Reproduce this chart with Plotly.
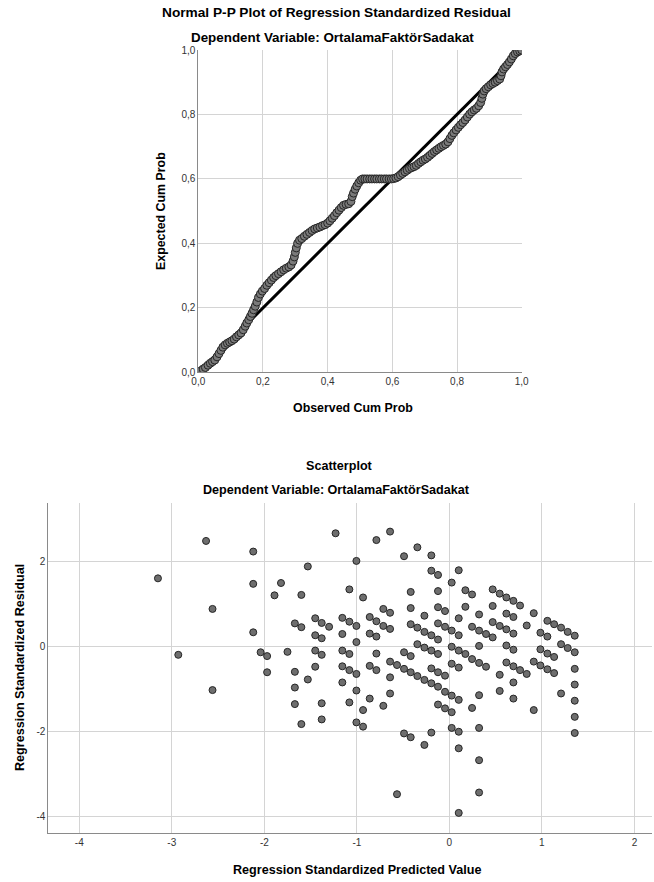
import plotly.graph_objects as go

# ---------------- Normal P-P plot data ----------------
pp_observed = [
    0.000, 0.008, 0.015, 0.022, 0.030, 0.037, 0.044, 0.051, 0.058, 0.064,
    0.070, 0.076, 0.083, 0.090, 0.097, 0.104, 0.111, 0.118, 0.125, 0.132,
    0.139, 0.145, 0.150, 0.156, 0.161, 0.166, 0.171, 0.176, 0.181, 0.186,
    0.192, 0.198, 0.205, 0.212, 0.219, 0.226, 0.233, 0.240, 0.248, 0.256,
    0.264, 0.272, 0.280, 0.287, 0.293, 0.297, 0.300, 0.303, 0.307, 0.313,
    0.320, 0.328, 0.336, 0.344, 0.352, 0.360, 0.368, 0.376, 0.384, 0.392,
    0.400, 0.407, 0.414, 0.421, 0.428, 0.435, 0.442, 0.449, 0.457, 0.465,
    0.472, 0.476, 0.480, 0.485, 0.490, 0.496, 0.502, 0.508, 0.515, 0.522,
    0.530, 0.537, 0.545, 0.552, 0.560, 0.567, 0.575, 0.582, 0.590, 0.597,
    0.604, 0.611, 0.618, 0.625, 0.632, 0.639, 0.646, 0.653, 0.660, 0.667,
    0.674, 0.681, 0.688, 0.695, 0.702, 0.709, 0.716, 0.723, 0.730, 0.737,
    0.744, 0.751, 0.758, 0.765, 0.772, 0.778, 0.784, 0.790, 0.797, 0.804,
    0.811, 0.818, 0.825, 0.832, 0.839, 0.846, 0.853, 0.860, 0.867, 0.873,
    0.877, 0.880, 0.884, 0.890, 0.897, 0.904, 0.911, 0.918, 0.925, 0.932,
    0.936, 0.939, 0.944, 0.950, 0.956, 0.962, 0.968, 0.974, 0.980, 0.987,
    0.994, 1.000,
]
pp_expected = [
    0.000, 0.005, 0.010, 0.015, 0.022, 0.028, 0.033, 0.038, 0.048, 0.058,
    0.068, 0.078, 0.085, 0.090, 0.094, 0.098, 0.103, 0.110, 0.116, 0.122,
    0.132, 0.143, 0.153, 0.163, 0.173, 0.183, 0.194, 0.205, 0.218, 0.232,
    0.243, 0.252, 0.260, 0.270, 0.278, 0.286, 0.294, 0.300, 0.306, 0.312,
    0.318, 0.323, 0.327, 0.333, 0.345, 0.358, 0.372, 0.386, 0.400, 0.410,
    0.415, 0.422, 0.428, 0.434, 0.440, 0.445, 0.448, 0.451, 0.455, 0.458,
    0.463, 0.470, 0.478, 0.486, 0.495, 0.503, 0.511, 0.518, 0.521, 0.523,
    0.530, 0.545, 0.556, 0.568, 0.578, 0.588, 0.596, 0.600, 0.600, 0.600,
    0.600, 0.600, 0.600, 0.600, 0.600, 0.600, 0.600, 0.600, 0.600, 0.600,
    0.601, 0.603, 0.607, 0.612, 0.617, 0.622, 0.627, 0.632, 0.635, 0.638,
    0.642, 0.648, 0.653, 0.658, 0.662, 0.667, 0.673, 0.679, 0.685, 0.690,
    0.695, 0.700, 0.704, 0.708, 0.715, 0.725, 0.735, 0.743, 0.752, 0.760,
    0.768, 0.775, 0.783, 0.792, 0.801, 0.808, 0.814, 0.819, 0.827, 0.837,
    0.850, 0.863, 0.873, 0.880, 0.886, 0.892, 0.896, 0.900, 0.905, 0.910,
    0.920, 0.932, 0.941, 0.948, 0.955, 0.963, 0.972, 0.982, 0.989, 0.994,
    0.997, 1.000,
]
ref_line = [0.0, 1.0]
pp_ticks = [0.0, 0.2, 0.4, 0.6, 0.8, 1.0]
pp_ticklabels = ["0,0", "0,2", "0,4", "0,6", "0,8", "1,0"]

# ---------------- Scatterplot data ----------------
predicted = [
    -3.15, -2.63, -2.93, -2.56, -2.12, -2.12, -2.12, -2.04, -1.97, -1.97,
    -1.89, -1.82, -1.75, -1.67, -1.67, -1.60, -1.60, -1.53, -1.53, -1.45,
    -1.45, -1.45, -1.45, -1.38, -1.38, -1.38, -1.30, -1.23, -2.56, -1.67,
    -1.67, -1.60, -1.38, -1.38,
    -0.641, -0.789, -0.346, -0.49, -0.195, -1.005, -0.195, -0.123, 0.101, 0.025,
    -1.081, -0.933, -0.418, -0.123, 0.173, 0.245, 0.468, 0.544, 0.616, 0.692,
    0.764, -0.714, -0.641, -0.418, -0.27, -0.123, -0.047, 0.173, 0.321, 0.468,
    0.616, 0.692, 0.912, -1.157, -1.081, -1.005, -0.861, -0.789, -0.714, -0.641,
    -0.418, -0.346, -0.27, -0.195, -0.123, -0.123, -0.047, 0.025, 0.101, 0.101,
    0.245, 0.321, 0.396, 0.468, 0.468, 0.544, 0.616, 0.692, 0.836, 1.059,
    1.132, 1.207, 1.279, 1.355, 0.984, 1.059, -1.157, -1.005, -0.861, -0.789,
    -0.346, -0.27, -0.195, -0.123, 0.025, 0.101, 0.173, 0.245, 0.321, 0.616,
    0.692, 0.984, 1.059, 1.132, 1.207, 1.279, 1.355, -1.157, -1.081, -0.789,
    -0.49, -0.418,
    -1.157, -1.081, -1.005, -1.157, -1.005, -1.081, -0.933, -1.005, -0.933, -0.861,
    -0.789, -0.861, -0.714, -0.641, -0.641, -0.641, -0.566, -0.49, -0.418, -0.346,
    -0.27, -0.195, -0.123, -0.047, 0.025, 0.101, -0.195, -0.123, -0.047, -0.123,
    -0.047, 0.025, 0.025, 0.101, 0.245, 0.321, 0.321, 0.396, 0.544, 0.544,
    0.616, 0.692, 0.764, 0.836, 0.692, 0.692, 0.912, 0.984, 1.059, 1.132,
    0.912, 1.207, 1.355, 1.355, 1.355, 1.355, 1.355, -0.49, -0.418, -0.27,
    -0.195, 0.025, 0.101, 0.101, 0.321, 0.321, 0.321, -0.566, 0.101,
]
residual = [
    1.61, 2.49, -0.19, 0.89, 2.24, 1.48, 0.34, -0.13, -0.22, -0.60,
    1.21, 1.50, -0.12, 0.55, -0.59, 0.46, 1.22, 1.89, -0.77, 0.67,
    0.27, -0.09, -0.47, 0.56, 0.20, -0.19, 0.47, 2.67, -1.02, -0.96,
    -1.35, -1.82, -1.33, -1.71,
    2.71, 2.51, 2.34, 2.13, 2.15, 2.02, 1.79, 1.69, 1.80, 1.51,
    1.35, 1.16, 1.29, 1.31, 1.33, 1.23, 1.35, 1.25, 1.16, 1.08,
    0.97, 0.89, 0.80, 0.91, 0.73, 0.93, 0.84, 0.94, 0.76, 0.96,
    0.78, 0.70, 0.79, 0.68, 0.59, 0.49, 0.70, 0.60, 0.49, 0.42,
    0.53, 0.45, 0.35, 0.27, 0.55, 0.17, 0.47, 0.38, 0.27, 0.67,
    0.47, 0.38, 0.30, 0.22, 0.58, 0.49, 0.41, 0.31, 0.50, 0.61,
    0.53, 0.45, 0.35, 0.26, 0.33, 0.24, 0.30, 0.11, 0.31, 0.24,
    0.06, -0.02, -0.09, -0.17, 0.00, -0.09, -0.17, -0.29, 0.02, 0.03,
    -0.07, -0.06, -0.16, -0.24, 0.06, -0.03, -0.13, -0.09, -0.17, -0.16,
    -0.13, -0.22,
    -0.46, -0.55, -0.64, -0.84, -1.03, -1.31, -1.49, -1.78, -1.88, -0.45,
    -0.55, -1.22, -1.39, -0.35, -0.72, -1.10, -0.43, -0.52, -0.60, -0.69,
    -0.78, -0.86, -0.94, -1.06, -1.15, -1.25, -0.51, -0.60, -0.68, -1.36,
    -1.45, -1.54, -0.40, -0.49, -1.44, -1.14, -0.38, -0.47, -0.66, -1.04,
    -0.37, -0.46, -0.55, -0.64, -0.84, -1.22, -0.35, -0.44, -0.53, -0.62,
    -1.49, -1.10, -0.52, -0.89, -1.27, -1.65, -2.03, -2.04, -2.13, -2.31,
    -2.02, -1.91, -2.00, -2.39, -1.91, -2.67, -3.43, -3.47, -3.91,
]
sc_xticks = [-4, -3, -2, -1, 0, 1, 2]
sc_yticks = [-4, -2, 0, 2]

W, H = 654, 882
FONT = "Liberation Sans, Arial, sans-serif"


def fx(p):
    return p / W


def fy(p):
    return 1 - p / H


fig = go.Figure()
fig.add_trace(go.Scatter(x=ref_line, y=ref_line, mode="lines",
                         line=dict(color="black", width=3),
                         xaxis="x", yaxis="y", hoverinfo="skip"))
fig.add_trace(go.Scatter(x=pp_observed, y=pp_expected, mode="markers",
                         marker=dict(size=8, color="#7a7a7a",
                                     line=dict(color="#262626", width=1)),
                         xaxis="x", yaxis="y"))
fig.add_trace(go.Scatter(x=predicted, y=residual, mode="markers",
                         marker=dict(size=7, color="#6e6e6e",
                                     line=dict(color="#262626", width=1)),
                         xaxis="x2", yaxis="y2"))

axis_common = dict(showgrid=True, gridcolor="#d4d4d4", gridwidth=1,
                   showline=True, linecolor="#8a8a8a", linewidth=1,
                   zeroline=False, ticks="", fixedrange=True,
                   tickfont=dict(family=FONT, size=10, color="#333333"))

fig.update_layout(
    width=W, height=H,
    margin=dict(l=0, r=0, t=0, b=0, autoexpand=False),
    paper_bgcolor="white", plot_bgcolor="white",
    showlegend=False,
    font=dict(family=FONT, color="black"),
    xaxis=dict(domain=[fx(198.3), fx(521.7)], range=[0, 1], anchor="y",
               tickvals=pp_ticks, ticktext=pp_ticklabels, **axis_common),
    yaxis=dict(domain=[fy(372.3), fy(50)], range=[0, 1], anchor="x",
               tickvals=pp_ticks, ticktext=pp_ticklabels, **axis_common),
    xaxis2=dict(domain=[fx(48.3), fx(652)], range=[-4.335, 2.19], anchor="y2",
                tickvals=sc_xticks, ticktext=[str(v) for v in sc_xticks],
                **axis_common),
    yaxis2=dict(domain=[fy(832.7), fy(502.7)], range=[-4.376, 3.39], anchor="x2",
                tickvals=sc_yticks, ticktext=[str(v) for v in sc_yticks],
                **axis_common),
)


def label(text, x, y, size=13, angle=0):
    fig.add_annotation(text=f"<b>{text}</b>",
                       x=fx(x), y=fy(y), xref="paper", yref="paper",
                       xanchor="center", yanchor="middle", showarrow=False,
                       textangle=angle,
                       font=dict(family=FONT, size=size, color="black"))


label("Normal P-P Plot of Regression Standardized Residual", 336, 13, 13.7)
label("Dependent Variable: OrtalamaFaktörSadakat", 332, 37, 13.4)
label("Observed Cum Prob", 353, 408, 12.4)
label("Expected Cum Prob", 161, 211, 12.4, angle=-90)
label("Scatterplot", 340, 466, 12.6)
label("Dependent Variable: OrtalamaFaktörSadakat", 336, 490, 12.6)
label("Regression Standardized Predicted Value", 357, 870, 12.6)
label("Regression Standardized Residual", 20, 668, 12.6, angle=-90)

fig.write_html(
    "out.html",
    config={"displayModeBar": False},
    post_script="document.body.style.margin='0';"
                "document.body.style.overflow='hidden';",
)
